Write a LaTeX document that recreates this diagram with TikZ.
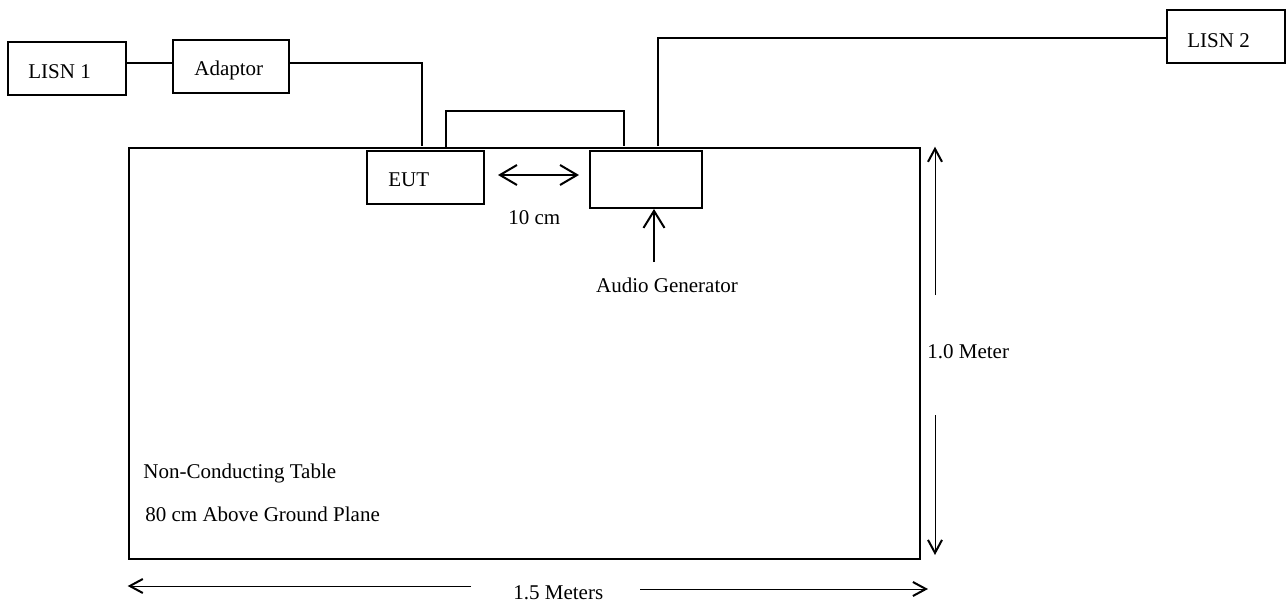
\documentclass[tikz,border=0pt]{standalone}
\usepackage{fontspec}
\setmainfont{Liberation Serif}
\usetikzlibrary{arrows.meta,fit}
\begin{document}
\begin{tikzpicture}[x=0.5pt,y=-0.5pt,
  box/.style={draw, line width=1pt, inner sep=0pt},
  tablebox/.style={draw, line width=1.3pt, inner sep=0pt},
  wire/.style={line width=0.8pt},
  lbl/.style={anchor=base west, inner sep=0pt, font=\fontsize{10.5pt}{12pt}\selectfont},
  bigarrow/.style={line width=0.8pt, -{Straight Barb[length=8.5pt,width=10.5pt,line width=1pt]}},
  bigdouble/.style={line width=0.8pt, {Straight Barb[length=8.5pt,width=10pt,line width=1pt]}-{Straight Barb[length=8.5pt,width=10pt,line width=1pt]}},
  dimarrow/.style={line width=0.5pt, -{Straight Barb[length=6.5pt,width=7pt,line width=1pt]}}]
\useasboundingbox (0,0) rectangle (1287,606);

% boxes
\node[box, fit={(8,42)(126,95)}] (lisn1) {};
\node[lbl] (lisn1t) at (28,78) {LISN 1};
\node[box, fit={(173,40)(289,93)}] (adaptor) {};
\node[lbl] (adaptort) at (194,75) {Adaptor};
\node[box, fit={(1167,10)(1285,63)}] (lisn2) {};
\node[lbl] (lisn2t) at (1187,47) {LISN 2};
\node[tablebox, fit={(129,148)(920,559)}] (table) {};
\node[box, fit={(367,151)(484,204)}] (eut) {};
\node[lbl] (eutt) at (388,186) {EUT};
\node[box, fit={(590,151)(702,208)}] (gen) {};

% wires
\coordinate (a1) at (422,146);
\coordinate (l1) at (446,148);
\coordinate (l2) at (624,146);
\coordinate (g1) at (658,146);
\draw[wire] (lisn1.east |- 0,63) -- (adaptor.west |- 0,63);
\draw[wire] (adaptor.east |- 0,63) -| (a1);
\draw[wire] (l1) |- (l2 |- 0,111) -- (l2);
\draw[wire] (g1) |- (lisn2.west |- 0,38);

% 10 cm
\draw[bigdouble] ([xshift=6.5pt]eut.east |- 0,175) -- ([xshift=-5pt]gen.west |- 0,175);
\node[lbl] (tencm) at (508,224) {10 cm};

% audio generator
\coordinate (ag) at (654,262);
\draw[bigarrow] (ag) -- (gen.south -| ag);
\node[lbl, anchor=base] (agt) at (667,292) {Audio Generator};

% dimensions
\coordinate (v1) at (935,295);
\coordinate (v2) at (935,415);
\draw[dimarrow] (v1) -- (v1 |- table.north);
\draw[dimarrow] (v2) -- (935,555);
\node[lbl] (meter1) at (927,358) {1.0 Meter};
\coordinate (h1) at (471,586);
\coordinate (h2) at (640,589);
\draw[dimarrow] (h1) -- (h1 -| table.west);
\draw[dimarrow] (h2) -- (928,589);
\node[lbl] (meter15) at (513,599) {1.5 Meters};

% table texts
\node[lbl] (nct) at (143,478) {Non-Conducting Table};
\node[lbl] (agp) at (145,521) {80 cm Above Ground Plane};
\end{tikzpicture}
\end{document}
